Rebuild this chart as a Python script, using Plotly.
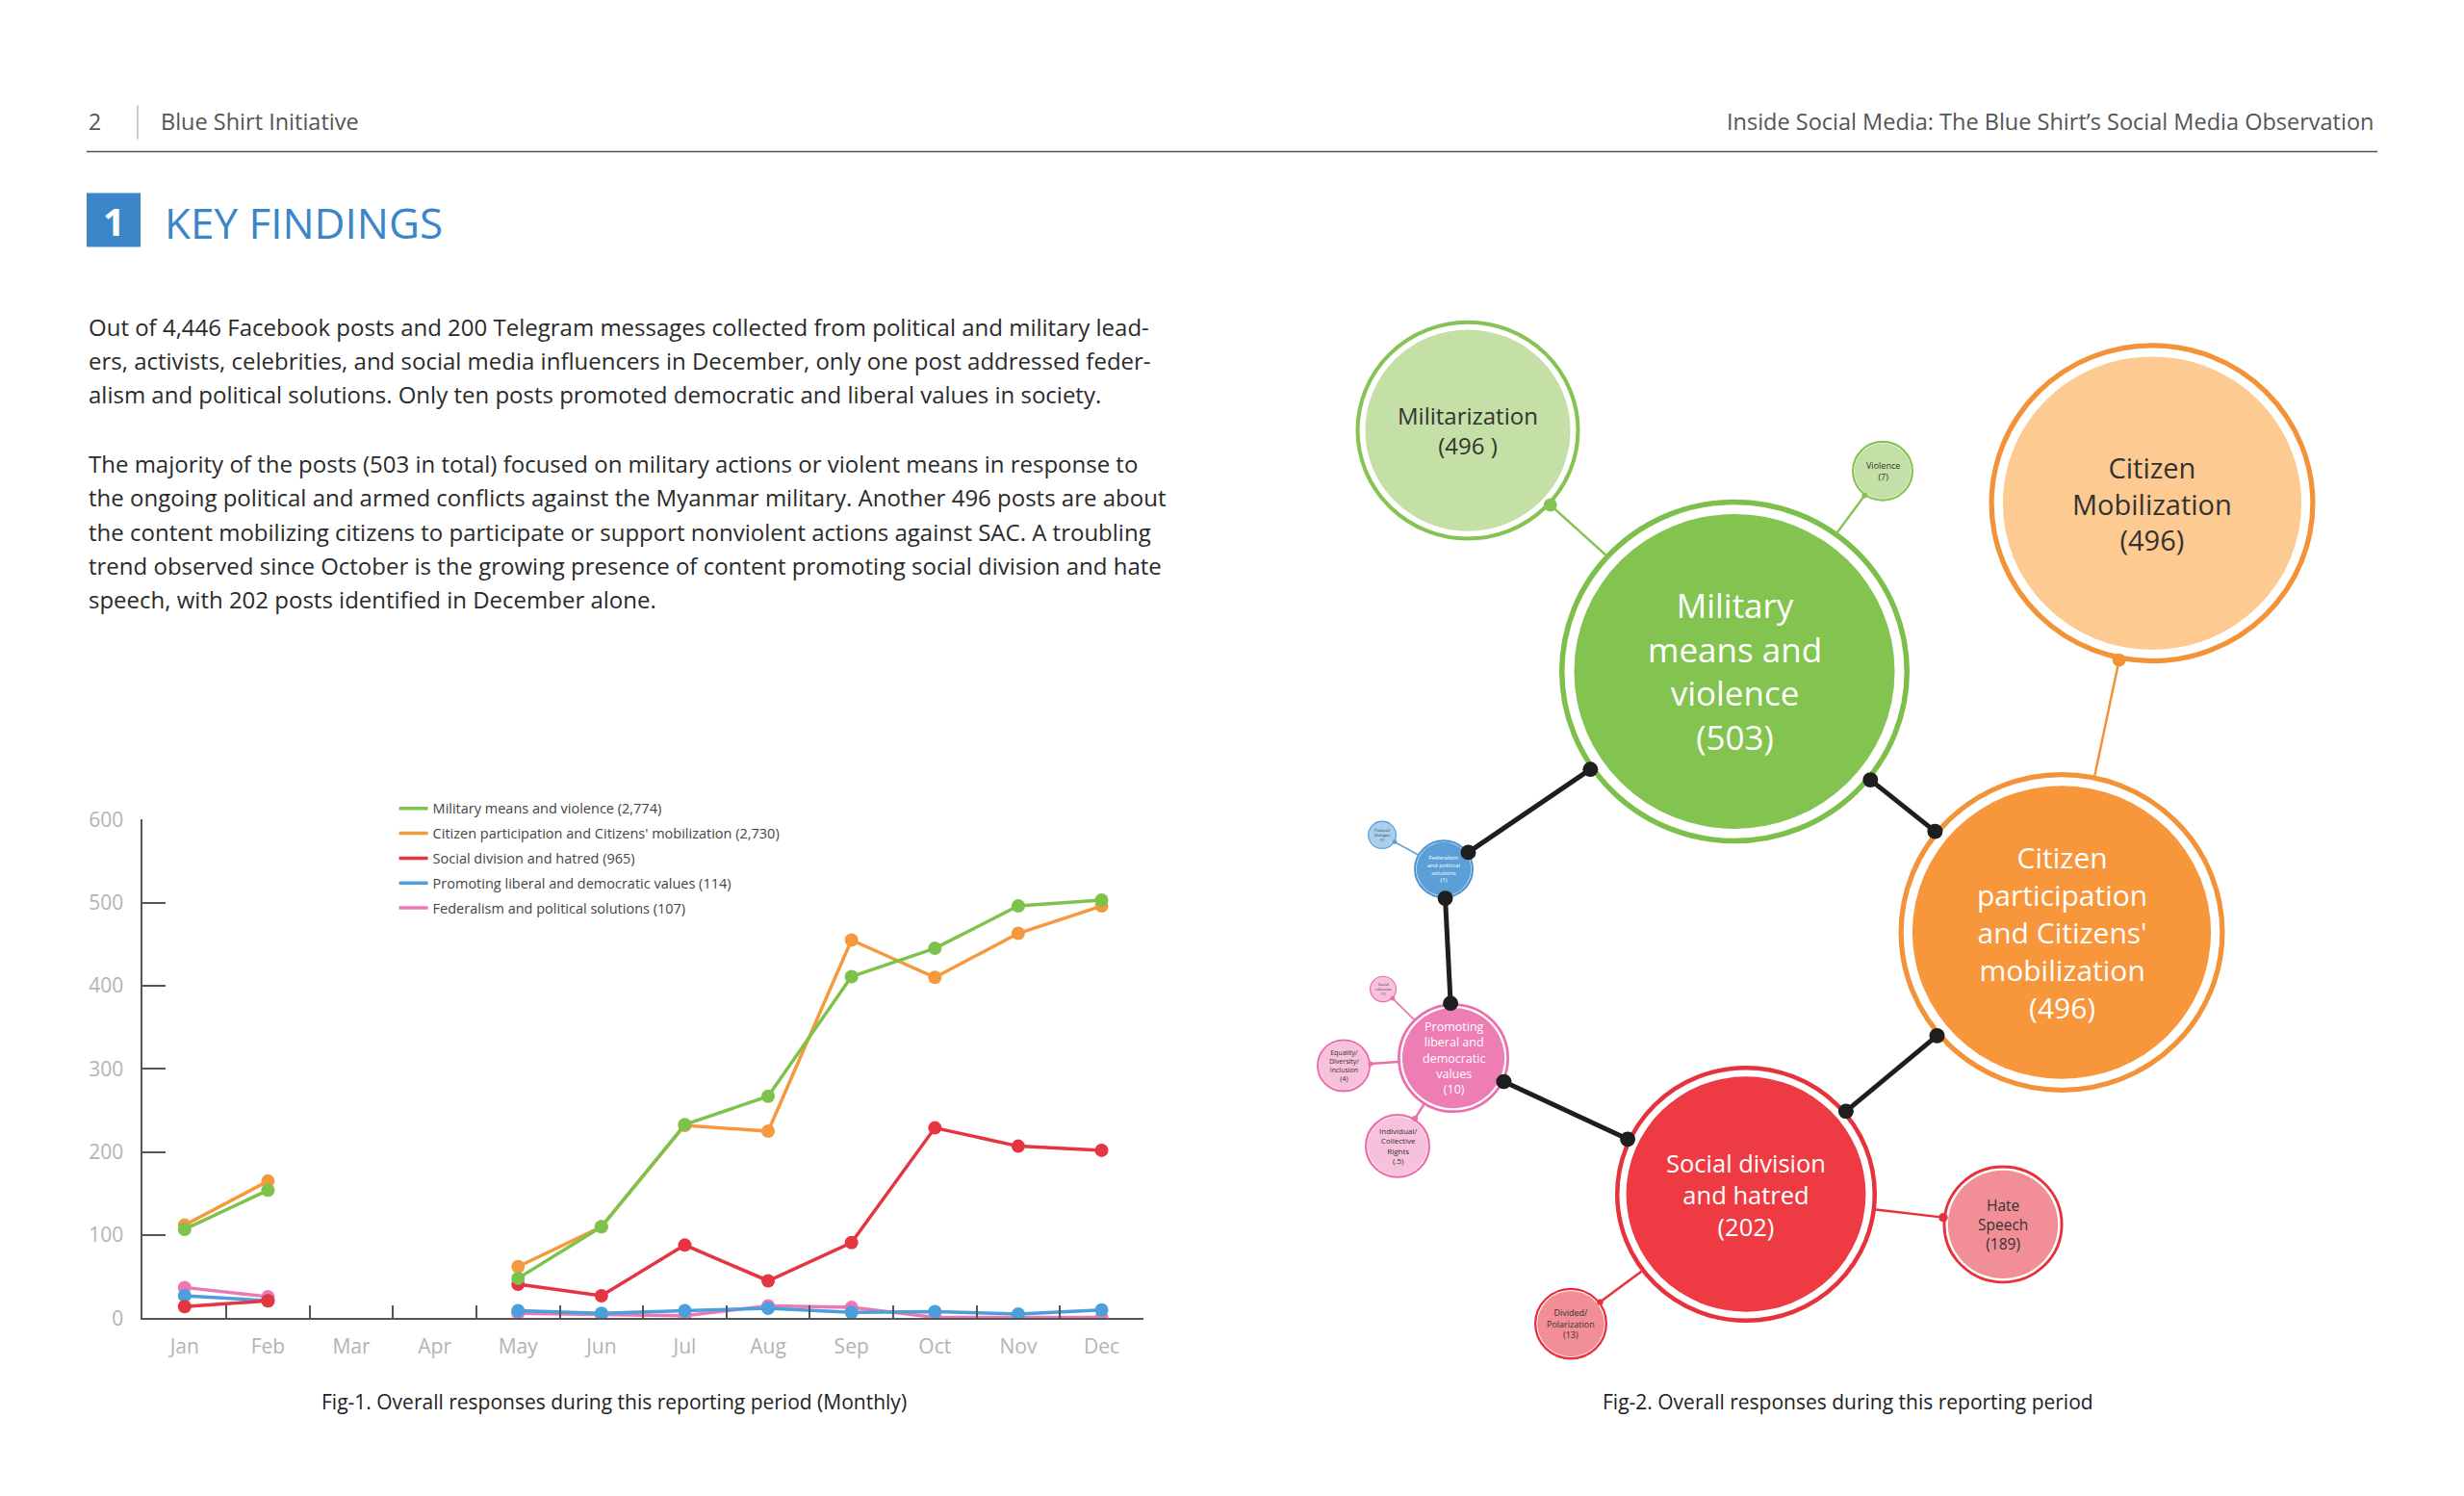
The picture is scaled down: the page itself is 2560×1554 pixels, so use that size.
import math
import plotly.graph_objects as go

W, H = 2560, 1554
FONT = "Open Sans"

# ---------------- Fig-1 data (monthly line chart) ----------------
months = ["Jan", "Feb", "Mar", "Apr", "May", "Jun", "Jul", "Aug", "Sep", "Oct", "Nov", "Dec"]
military_means = [107, 154, None, None, 48, 110, 233, 267, 411, 445, 496, 503]
citizen_participation = [112, 165, None, None, 62, 110, 232, 225, 455, 410, 463, 496]
social_division = [14, 21, None, None, 41, 27, 88, 45, 91, 229, 207, 202]
liberal_values = [27, 21, None, None, 9, 6, 9, 12, 7, 8, 5, 10]
federalism = [37, 26, None, None, 6, 4, 3, 15, 13, 1, 1, 1]
series_names = [
    "Military means and violence (2,774)",
    "Citizen participation and Citizens' mobilization (2,730)",
    "Social division and hatred (965)",
    "Promoting liberal and democratic values (114)",
    "Federalism and political solutions (107)",
]
series_values = [military_means, citizen_participation, social_division, liberal_values, federalism]
series_colors = ["#7dc24a", "#f59a3c", "#e53540", "#4a9fdc", "#ec79b4"]
y_ticks = [0, 100, 200, 300, 400, 500, 600]

# ---------------- Fig-2 data (bubble network) ----------------
node_ids = ["mil", "militz", "viol", "cp", "cm", "sd", "hate", "div", "prom", "eq", "ind", "soc", "fed", "pol"]
node_names = [
    ["Military", "means and", "violence"],
    ["Militarization"],
    ["Violence"],
    ["Citizen", "participation", "and Citizens'", "mobilization"],
    ["Citizen", "Mobilization"],
    ["Social division", "and hatred"],
    ["Hate", "Speech"],
    ["Divided/", "Polarization"],
    ["Promoting", "liberal and", "democratic", "values"],
    ["Equality/", "Diversity/", "Inclusion"],
    ["Individual/", "Collective", "Rights"],
    ["Social", "cohesion"],
    ["Federalism", "and political", "solutions"],
    ["Political/", "Dialogue"],
]
node_values = ["503", "496 ", "7", "496", "496", "202", "189", "13", "10", "4", ".5", "1", "1", "1"]
main_links = [("mil", "fed"), ("mil", "cp"), ("cp", "sd"), ("sd", "prom"), ("fed", "prom")]
sub_links = [("militz", "mil"), ("viol", "mil"), ("cm", "cp"), ("hate", "sd"), ("div", "sd"),
             ("eq", "prom"), ("ind", "prom"), ("soc", "prom"), ("pol", "fed")]

# layout of the network (page pixels) and styles
node_cx = [1802, 1525, 1956, 2142, 2236, 1814, 2081, 1632, 1510, 1396, 1452, 1437, 1500, 1436]
node_cy = [695, 440, 483, 971, 517, 1248, 1280, 1385, 1104, 1112, 1197, 1031, 904, 868]
node_r = [182, 116.5, 32, 169.5, 169.5, 136, 62.5, 38, 58, 28, 34, 14, 31, 15]
node_fill = ["#83c451", "#c4e0a6", "#c4e0a6", "#f7963b", "#fdca91", "#ee3b43", "#f28e95",
             "#f28e95", "#ee7db3", "#f7c1db", "#f7c1db", "#f7c1db", "#5c9fd8", "#a9cfef"]
node_ring = ["#7cbf4a", "#85c354", "#85c354", "#f39237", "#f39237", "#e7323c", "#e7323c",
             "#e7323c", "#ec6fab", "#ec6fab", "#ec6fab", "#ec6fab", "#4f94d2", "#5c9fd8"]
node_tcolor = ["white", "#333", "#333", "white", "#333", "white", "#333", "#333", "white",
               "#333", "#333", "#333", "white", "#333"]
node_font = [35, 24, 9, 30, 29, 25.5, 15.5, 9, 12.5, 7, 8, 4, 6, 4]

fig = go.Figure()

# ---------- line chart traces ----------
draw_order = [4, 3, 2, 1, 0]
for i in draw_order:
    fig.add_trace(go.Scatter(
        x=months, y=series_values[i], mode="lines", name=series_names[i],
        line=dict(color=series_colors[i], width=3.5), connectgaps=False,
        legendgroup=f"g{i}", legendrank=i + 1, xaxis="x", yaxis="y",
        hoverinfo="skip"))
    fig.add_trace(go.Scatter(
        x=months, y=series_values[i], mode="markers", showlegend=False,
        marker=dict(color=series_colors[i], size=14), legendgroup=f"g{i}",
        legendrank=i + 1, xaxis="x", yaxis="y", hoverinfo="skip"))

# dummy trace to register the page axes
fig.add_trace(go.Scatter(x=[None], y=[None], xaxis="x2", yaxis="y2", showlegend=False))

shapes = []
annotations = []

idx = {n: k for k, n in enumerate(node_ids)}


def ring_point(a, b, r):
    ax, ay = node_cx[a], node_cy[a]
    bx, by = node_cx[b], node_cy[b]
    d = math.hypot(bx - ax, by - ay)
    return ax + (bx - ax) / d * r, ay + (by - ay) / d * r


def circle(cx, cy, r, fill, line_color=None, lw=0):
    shapes.append(dict(type="circle", xref="x2", yref="y2", x0=cx - r, x1=cx + r,
                       y0=cy - r, y1=cy + r, fillcolor=fill,
                       line=dict(color=line_color or fill, width=lw), layer="above"))


# connecting lines
for a, b in main_links:
    ia, ib = idx[a], idx[b]
    p = ring_point(ia, ib, node_r[ia])
    q = ring_point(ib, ia, node_r[ib])
    shapes.append(dict(type="line", xref="x2", yref="y2", x0=p[0], y0=p[1], x1=q[0], y1=q[1],
                       line=dict(color="#1e1e1e", width=5), layer="above"))
for c, par in sub_links:
    ic, ip = idx[c], idx[par]
    p = ring_point(ic, ip, node_r[ic])
    q = ring_point(ip, ic, node_r[ip])
    lw = 2.5 if node_r[ic] > 20 else 1.6
    shapes.append(dict(type="line", xref="x2", yref="y2", x0=p[0], y0=p[1], x1=q[0], y1=q[1],
                       line=dict(color=node_ring[ic], width=lw), layer="above"))

# circles and labels
for k in range(len(node_ids)):
    r = node_r[k]
    lw = r * 0.022 + 1.5
    circle(node_cx[k], node_cy[k], r - lw / 2, "white", node_ring[k], lw)
    circle(node_cx[k], node_cy[k], r * 0.915, node_fill[k])
    text = "<br>".join(node_names[k] + [f"({node_values[k]})"])
    annotations.append(dict(xref="x2", yref="y2", x=node_cx[k], y=node_cy[k], text=text,
                            showarrow=False, align="center", xanchor="center", yanchor="middle",
                            font=dict(family=FONT, size=node_font[k], color=node_tcolor[k])))

# dots
for a, b in main_links:
    ia, ib = idx[a], idx[b]
    for (u, v) in ((ia, ib), (ib, ia)):
        p = ring_point(u, v, node_r[u])
        circle(p[0], p[1], 8, "#1e1e1e")
for c, par in sub_links:
    ic, ip = idx[c], idx[par]
    p = ring_point(ic, ip, node_r[ic])
    circle(p[0], p[1], max(2.5, min(7, node_r[ic] * 0.06 + 1)), node_ring[ic])

# ---------- page furniture ----------
shapes.append(dict(type="line", xref="x2", yref="y2", x0=90, x1=2470, y0=145, y1=145,
                   line=dict(color="#555", width=1.5)))
shapes.append(dict(type="line", xref="x2", yref="y2", x0=143, x1=143, y0=96, y1=132,
                   line=dict(color="#bbb", width=1.5)))
shapes.append(dict(type="rect", xref="x2", yref="y2", x0=90, x1=146, y0=189, y1=246,
                   fillcolor="#3a86c8", line=dict(width=0)))


def page_text(x, y, text, size, color="#333", xanchor="left", **kw):
    annotations.append(dict(xref="x2", yref="y2", x=x, y=y, text=text, showarrow=False,
                            xanchor=xanchor, yanchor="middle",
                            font=dict(family=FONT, size=size, color=color), **kw))


page_text(98, 113, "2", 23, "#555", xanchor="center")
page_text(165, 113, "Blue Shirt Initiative", 23.5, "#555")
page_text(2468, 113, "Inside Social Media: The Blue Shirt’s Social Media Observation", 23.5, "#555",
          xanchor="right")
page_text(118, 218, "<b>1</b>", 40, "white", xanchor="center")
page_text(169, 220, "KEY FINDINGS", 44, "#3a86c8")

para1 = [
    "Out of 4,446 Facebook posts and 200 Telegram messages collected from political and military lead-",
    "ers, activists, celebrities, and social media influencers in December, only one post addressed feder-",
    "alism and political solutions. Only ten posts promoted democratic and liberal values in society.",
]
para2 = [
    "The majority of the posts (503 in total) focused on military actions or violent means in response to",
    "the ongoing political and armed conflicts against the Myanmar military. Another 496 posts are about",
    "the content mobilizing citizens to participate or support nonviolent actions against SAC. A troubling",
    "trend observed since October is the growing presence of content promoting social division and hate",
    "speech, with 202 posts identified in December alone.",
]
for j, line in enumerate(para1):
    page_text(90, 330 + j * 36, line, 24, "#2a2a2a")
for j, line in enumerate(para2):
    page_text(90, 475 + j * 36, line, 24, "#2a2a2a")

page_text(638, 1467, "Fig-1. Overall responses during this reporting period (Monthly)", 21, "#222",
          xanchor="center")
page_text(1920, 1467, "Fig-2. Overall responses during this reporting period", 21, "#222",
          xanchor="center")

fig.update_layout(
    width=W, height=H, margin=dict(l=0, r=0, t=0, b=0),
    paper_bgcolor="white", plot_bgcolor="rgba(0,0,0,0)",
    font=dict(family=FONT),
    showlegend=True,
    legend=dict(x=0.160, y=0.470, xanchor="left", yanchor="top", bgcolor="rgba(0,0,0,0)",
                font=dict(family=FONT, size=14.5, color="#444"), tracegroupgap=4,
                traceorder="grouped", itemwidth=30),
    xaxis=dict(domain=[0.058, 0.464], type="category", categoryorder="array",
               categoryarray=months, range=[-0.5, 11.5], showline=True, linecolor="#555",
               linewidth=2, ticks="inside", tickson="boundaries", ticklen=13, tickwidth=1.5,
               tickcolor="#555", showgrid=False, zeroline=False, fixedrange=True,
               tickfont=dict(family=FONT, size=21, color="#b3b3b3"), ticklabelstandoff=9),
    yaxis=dict(domain=[0.1125, 0.452], range=[0, 600], tickvals=y_ticks, showline=True,
               linecolor="#555", linewidth=2, ticks="inside", ticklen=24, tickwidth=1.5,
               tickcolor="#555", showgrid=False, zeroline=False, fixedrange=True,
               tickfont=dict(family=FONT, size=21, color="#b3b3b3"), ticklabelstandoff=14),
    xaxis2=dict(domain=[0, 1], range=[0, W], visible=False, fixedrange=True, anchor="y2"),
    yaxis2=dict(domain=[0, 1], range=[H, 0], visible=False, fixedrange=True, anchor="x2"),
    shapes=shapes,
    annotations=annotations,
)

fig.write_html("out.html", config={"displayModeBar": False},
               post_script="document.body.style.margin='0';document.body.style.overflow='hidden';")
